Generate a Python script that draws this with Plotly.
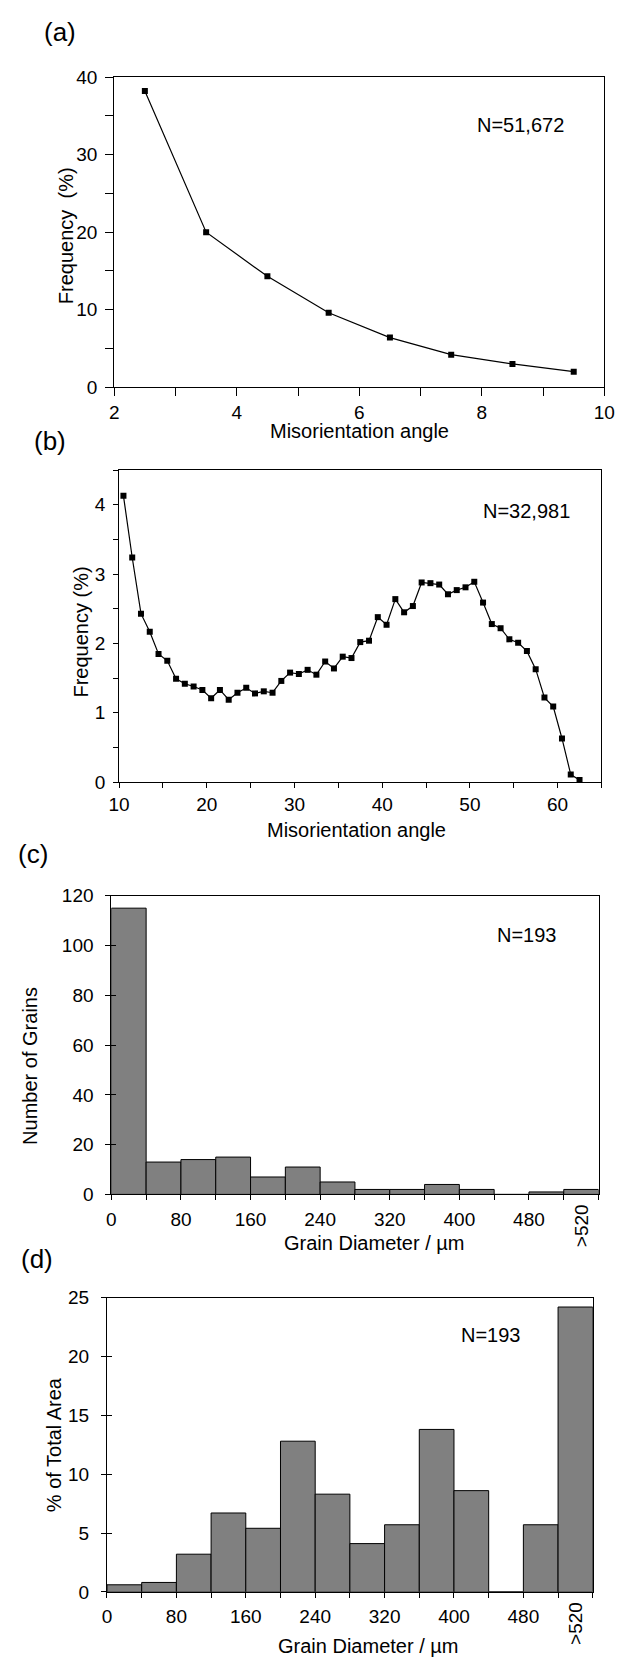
import plotly.graph_objects as go

W, H = 625, 1670
FONT = "Liberation Sans, Arial, Helvetica, sans-serif"

# ---------------- data ----------------
# (a) low-angle misorientation distribution
angle_a = [2.5, 3.5, 4.5, 5.5, 6.5, 7.5, 8.5, 9.5]
freq_a = [38.2, 20.0, 14.3, 9.6, 6.4, 4.2, 3.0, 2.0]

# (b) high-angle misorientation distribution
angle_b = [10.5, 11.5, 12.5, 13.5, 14.5, 15.5, 16.5, 17.5, 18.5, 19.5,
           20.5, 21.5, 22.5, 23.5, 24.5, 25.5, 26.5, 27.5, 28.5, 29.5,
           30.5, 31.5, 32.5, 33.5, 34.5, 35.5, 36.5, 37.5, 38.5, 39.5,
           40.5, 41.5, 42.5, 43.5, 44.5, 45.5, 46.5, 47.5, 48.5, 49.5,
           50.5, 51.5, 52.5, 53.5, 54.5, 55.5, 56.5, 57.5, 58.5, 59.5,
           60.5, 61.5, 62.5]
freq_b = [4.13, 3.24, 2.43, 2.17, 1.85, 1.75, 1.49, 1.42, 1.38, 1.33,
          1.21, 1.33, 1.19, 1.29, 1.36, 1.28, 1.31, 1.29, 1.46, 1.58,
          1.56, 1.62, 1.55, 1.74, 1.64, 1.81, 1.79, 2.02, 2.04, 2.38,
          2.27, 2.64, 2.45, 2.54, 2.88, 2.87, 2.85, 2.71, 2.77, 2.81,
          2.89, 2.59, 2.28, 2.22, 2.06, 2.01, 1.89, 1.63, 1.22, 1.09,
          0.63, 0.11, 0.03]

# (c), (d) grain diameter histograms (bin centres, 40 um bins)
bin_centres = [20, 60, 100, 140, 180, 220, 260, 300, 340, 380, 420, 460, 500, 540]
grain_counts = [115, 13, 14, 15, 7, 11, 5, 2, 2, 4, 2, 0, 1, 2]
area_pct = [0.6, 0.8, 3.2, 6.7, 5.4, 12.8, 8.3, 4.1, 5.7, 13.8, 8.6, 0.0, 5.7, 24.2]

# tick labels
ticks_a = [2, 3, 4, 5, 6, 7, 8, 9, 10]
ticktext_a = ["2", "", "4", "", "6", "", "8", "", "10"]
yticks_a = [0, 5, 10, 15, 20, 25, 30, 35, 40]
yticktext_a = ["0", "", "10", "", "20", "", "30", "", "40"]
ticks_b = [10, 15, 20, 25, 30, 35, 40, 45, 50, 55, 60, 65]
ticktext_b = ["10", "", "20", "", "30", "", "40", "", "50", "", "60", ""]
yticks_b = [0, 0.5, 1, 1.5, 2, 2.5, 3, 3.5, 4, 4.5]
yticktext_b = ["0", "", "1", "", "2", "", "3", "", "4", ""]
yticks_c = [0, 20, 40, 60, 80, 100, 120]
yticktext_c = ["0", "20", "40", "60", "80", "100", "120"]
yticks_d = [0, 5, 10, 15, 20, 25]
yticktext_d = ["0", "5", "10", "15", "20", "25"]
ticks_gd = [0, 40, 80, 120, 160, 200, 240, 280, 320, 360, 400, 440, 480, 520, 560]
ticktext_gd = ["0", "", "80", "", "160", "", "240", "", "320", "", "400", "", "480", "", ""]
last_bin_label = ">520"

# ---------------- helpers ----------------
def xd(l, r):
    return [l / W, r / W]

def yd(t, b):
    return [1 - b / H, 1 - t / H]

def px(x):
    return x / W

def py(y):
    return 1 - y / H

tickfont = dict(family=FONT, size=19, color="black")

def axis(domain, rng, tickvals, ticktext, anchor, standoff, ticklen):
    return dict(domain=domain, range=rng, tickmode="array", tickvals=tickvals,
                ticktext=ticktext, showline=True, linecolor="black", linewidth=1,
                mirror=True, ticks="outside", ticklen=ticklen, tickwidth=1,
                tickcolor="black", showgrid=False, zeroline=False,
                tickfont=tickfont, anchor=anchor, fixedrange=True,
                ticklabeloverflow="allow", ticklabelstandoff=standoff)

def inner_ticks(base, anchor, rng, tickvals):
    # second set of short inward ticks so the y ticks cross the axis line
    return dict(overlaying=base, anchor=anchor, range=rng, tickmode="array",
                tickvals=tickvals, ticks="inside", ticklen=5, tickwidth=1,
                tickcolor="black", showticklabels=False, showline=False,
                showgrid=False, zeroline=False, fixedrange=True)

fig = go.Figure()

line_style = dict(color="black", width=1.2)
marker_style = dict(symbol="square", size=6, color="black")

fig.add_trace(go.Scatter(x=angle_a, y=freq_a, mode="lines+markers",
                         line=line_style, marker=marker_style,
                         xaxis="x", yaxis="y", showlegend=False))
fig.add_trace(go.Scatter(x=angle_b, y=freq_b, mode="lines+markers",
                         line=line_style, marker=marker_style,
                         xaxis="x2", yaxis="y2", showlegend=False))
bar_style = dict(color="#808080", line=dict(color="black", width=1))
fig.add_trace(go.Bar(x=bin_centres, y=grain_counts, width=40, marker=bar_style,
                     xaxis="x3", yaxis="y3", showlegend=False))
fig.add_trace(go.Bar(x=bin_centres, y=area_pct, width=40, marker=bar_style,
                     xaxis="x4", yaxis="y4", showlegend=False))
# empty traces to activate the overlay tick axes
fig.add_trace(go.Scatter(x=[], y=[], xaxis="x3", yaxis="y5", showlegend=False,
                         hoverinfo="skip"))
fig.add_trace(go.Scatter(x=[], y=[], xaxis="x4", yaxis="y6", showlegend=False,
                         hoverinfo="skip"))

fig.update_layout(
    width=W, height=H,
    margin=dict(l=0, r=0, t=0, b=0, pad=0),
    paper_bgcolor="white", plot_bgcolor="white",
    font=dict(family=FONT, color="black"),
    bargap=0,
    hovermode=False,
    xaxis=axis(xd(107, 615), [2, 10], ticks_a, ticktext_a, "y", 0, 8),
    yaxis=axis(yd(68, 382), [0, 40], yticks_a, yticktext_a, "x", 4, 8),
    xaxis2=axis(xd(112, 612), [10, 65], ticks_b, ticktext_b, "y2", 0, 5),
    yaxis2=axis(yd(466, 782), [0, 4.5], yticks_b, yticktext_b, "x2", 4, 5),
    xaxis3=axis(xd(104, 609), [0, 560], ticks_gd, ticktext_gd, "y3", 3, 5),
    yaxis3=axis(yd(897, 1199.5), [0, 120], yticks_c, yticktext_c, "x3", 8, 5),
    xaxis4=axis(xd(99.5, 603), [0, 560], ticks_gd, ticktext_gd, "y4", 2, 5),
    yaxis4=axis(yd(1304, 1602), [0, 25], yticks_d, yticktext_d, "x4", 8, 5),
    yaxis5=inner_ticks("y3", "x3", [0, 120], yticks_c[:-1]),
    yaxis6=inner_ticks("y4", "x4", [0, 25], yticks_d[:-1]),
)

ann = []

def text(x, y, s, size=20, angle=0):
    ann.append(dict(x=px(x), y=py(y), xref="paper", yref="paper", text=s,
                    showarrow=False, xanchor="center", yanchor="middle",
                    textangle=angle, font=dict(family=FONT, size=size, color="black")))

# panel letters
text(51, 22, "(a)", 26)
text(40, 436, "(b)", 26)
text(23, 855, "(c)", 26)
text(27, 1265, "(d)", 26)
# x titles
text(361, 426, "Misorientation angle")
text(358, 830, "Misorientation angle")
text(376, 1249, "Grain Diameter / \u00b5m")
text(370, 1657, "Grain Diameter / \u00b5m")
# y titles
text(57, 228, "Frequency \u00a0(%)", angle=-90)
text(73, 630, "Frequency (%)", angle=-90)
text(19, 1069, "Number of Grains", angle=-90)
text(44, 1453, "% of Total Area", angle=-90)
# N labels
text(528, 116, "N=51,672")
text(534, 507, "N=32,981")
text(535, 937, "N=193")
text(498, 1342, "N=193")

# ">520" labels for the last bin
for xa, yc in (("x3", 1231.5), ("x4", 1634)):
    ann.append(dict(x=540, y=py(yc), xref=xa, yref="paper", text=last_bin_label,
                    showarrow=False, xanchor="center", yanchor="middle",
                    textangle=-90, font=tickfont))

fig.update_layout(annotations=ann)
fig.write_html(
    "out.html",
    config={"displayModeBar": False, "staticPlot": True},
    post_script="document.body.style.margin='0';document.body.style.overflow='hidden';",
)
